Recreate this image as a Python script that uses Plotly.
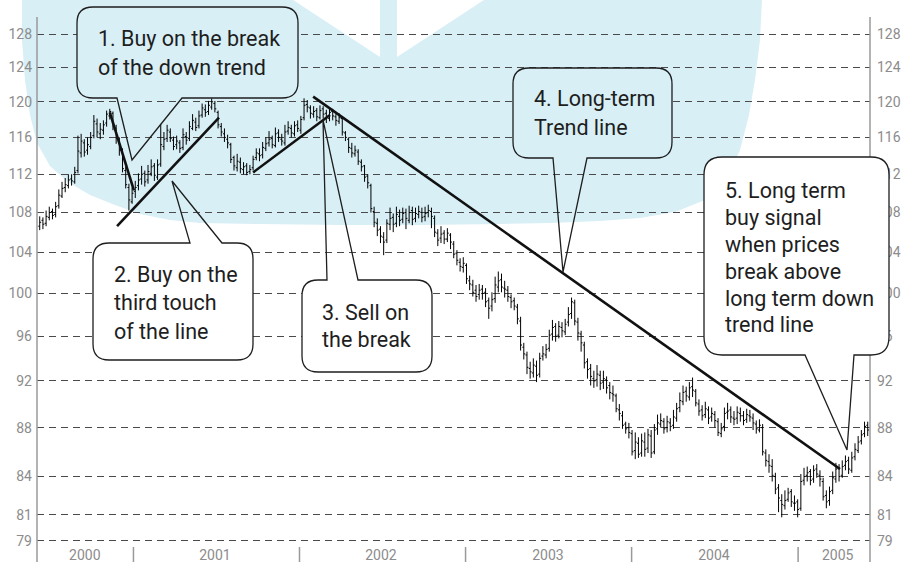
import plotly.graph_objects as go
import pandas as pd

# ---------------- data (weekly bars) ----------------
opens = [
    106.6, 107.2, 106.9, 107.5, 108.1, 107.8, 108.7, 109.7, 110.6, 110.8,
    111.5, 111.2, 112.4, 114.3, 115.4, 114.6, 115.0, 116.2, 117.5, 116.4,
    116.8, 117.6, 118.4, 118.7, 117.0, 115.6, 114.4, 112.4, 110.6, 109.1,
    110.2, 110.8, 111.5, 112.1, 111.4, 112.1, 112.9, 111.7, 113.1, 115.0,
    115.9, 116.6, 115.7, 115.2, 115.4, 114.9, 116.1, 115.9, 117.0, 117.7,
    117.3, 118.5, 119.1, 118.9, 119.4, 119.8, 118.8, 117.2, 116.4, 115.8,
    115.2, 113.8, 112.7, 113.3, 112.5, 112.9, 112.3, 112.7, 113.8, 114.2,
    114.1, 114.8, 115.4, 115.9, 115.1, 116.5, 115.8, 115.4, 116.7, 117.0,
    116.4, 117.4, 116.8, 118.2, 119.7, 119.3, 118.6, 119.0, 118.2, 119.2,
    118.7, 118.1, 118.9, 118.3, 117.8, 118.1, 116.5, 115.8, 114.8, 114.2,
    114.4, 113.3, 112.9, 111.8, 110.8, 108.1, 106.9, 106.3, 105.5, 105.2,
    106.8, 107.5, 106.9, 107.6, 107.3, 108.0, 107.2, 108.2, 107.4, 107.8,
    108.0, 107.6, 108.0, 108.1, 107.4, 105.9, 105.4, 105.9, 105.3, 105.7,
    104.8, 103.9, 103.0, 102.5, 102.7, 101.2, 100.8, 100.3, 99.9, 100.4,
    100.1, 99.3, 98.8, 99.5, 100.6, 101.3, 100.5, 100.3, 99.6, 99.3,
    98.7, 97.4, 95.0, 94.3, 93.1, 92.7, 93.3, 92.6, 94.2, 94.3,
    94.9, 96.2, 96.9, 96.1, 96.8, 96.4, 97.3, 98.1, 99.1, 97.3,
    96.2, 95.2, 93.7, 93.1, 92.2, 92.1, 92.5, 91.9, 92.1, 91.6,
    90.9, 90.7, 89.5, 89.0, 88.3, 88.0, 87.5, 86.1, 86.7, 85.9,
    86.8, 86.3, 87.3, 86.0, 87.9, 88.3, 88.5, 88.0, 88.4, 88.2,
    88.8, 89.7, 90.2, 91.1, 90.6, 91.5, 91.1, 90.0, 89.5, 89.1,
    89.5, 88.9, 89.1, 88.5, 87.5, 88.1, 89.3, 89.5, 88.8, 88.8,
    89.2, 89.0, 88.7, 89.0, 88.8, 88.3, 87.8, 88.0, 85.9, 85.2,
    84.8, 84.0, 83.1, 82.1, 81.7, 82.2, 82.8, 81.9, 82.0, 81.5,
    83.7, 84.1, 84.4, 83.8, 84.6, 84.1, 83.6, 82.5, 82.1, 82.9,
    83.8, 84.7, 84.1, 84.9, 85.3, 84.5, 85.6, 86.1, 86.9, 87.5,
    88.2,
]
highs = [
    107.6, 107.5, 108.2, 108.6, 108.4, 109.1, 110.4, 111.2, 111.6, 112.0,
    112.0, 112.8, 116.2, 116.4, 115.8, 116.0, 116.6, 118.5, 118.1, 117.6,
    117.9, 119.0, 119.2, 118.9, 117.4, 116.0, 114.8, 112.8, 111.0, 110.6,
    111.3, 112.1, 112.9, 112.4, 113.0, 113.6, 113.2, 113.6, 117.5, 116.6,
    117.4, 117.0, 116.1, 116.2, 115.7, 117.0, 116.6, 117.8, 118.6, 118.2,
    119.0, 119.8, 119.7, 120.1, 120.4, 120.1, 119.0, 117.6, 117.0, 116.3,
    115.4, 114.0, 114.2, 113.8, 113.3, 113.2, 113.0, 114.0, 114.8, 114.8,
    115.5, 116.0, 116.7, 116.2, 117.1, 116.9, 116.4, 117.4, 117.8, 117.4,
    117.8, 117.9, 118.4, 120.4, 120.2, 119.6, 119.5, 119.3, 119.6, 119.5,
    119.1, 119.3, 119.2, 118.6, 118.7, 118.3, 116.7, 116.0, 115.4, 115.1,
    114.7, 113.6, 113.0, 112.0, 111.0, 108.6, 107.4, 106.6, 106.0, 107.3,
    108.5, 107.9, 108.6, 108.3, 108.5, 108.4, 108.7, 108.6, 108.5, 108.7,
    108.5, 108.6, 108.8, 108.5, 107.7, 106.3, 106.6, 106.2, 106.4, 105.9,
    105.1, 104.2, 103.4, 103.5, 102.9, 101.7, 101.3, 100.8, 100.9, 100.8,
    100.5, 99.6, 100.1, 101.6, 102.1, 101.9, 101.2, 100.7, 99.9, 99.6,
    99.0, 97.8, 95.4, 94.6, 93.7, 94.0, 93.8, 94.5, 95.1, 95.3,
    96.6, 97.5, 97.2, 97.4, 97.3, 97.6, 98.7, 99.6, 99.4, 97.7,
    96.5, 95.5, 94.0, 93.5, 92.9, 93.4, 92.9, 92.9, 92.4, 91.9,
    91.6, 90.9, 90.0, 89.4, 88.5, 88.4, 87.8, 87.6, 87.2, 87.5,
    87.6, 87.9, 87.8, 88.3, 89.1, 89.2, 88.8, 89.0, 88.8, 89.5,
    90.1, 91.0, 91.6, 91.5, 91.9, 92.3, 91.3, 90.4, 89.9, 90.2,
    89.8, 89.7, 89.4, 88.8, 88.4, 89.7, 90.1, 89.8, 89.4, 89.8,
    89.7, 89.4, 89.6, 89.5, 89.2, 88.6, 88.7, 88.3, 86.2, 85.8,
    85.4, 84.3, 83.4, 82.6, 82.9, 83.1, 83.0, 82.5, 82.2, 84.2,
    84.7, 84.8, 84.6, 84.9, 85.0, 84.5, 83.9, 82.9, 83.2, 84.4,
    85.1, 85.0, 85.3, 85.7, 85.6, 86.0, 86.7, 87.3, 87.8, 88.5,
    88.5,
]
lows = [
    106.2, 106.3, 106.6, 107.2, 107.3, 107.5, 108.4, 109.5, 110.1, 110.5,
    110.8, 111.0, 112.1, 113.8, 113.9, 114.1, 114.7, 115.9, 116.0, 115.8,
    116.3, 117.2, 118.0, 116.8, 115.3, 114.0, 112.2, 110.5, 108.2, 108.9,
    109.5, 110.3, 110.9, 110.7, 111.0, 111.8, 111.3, 111.4, 112.8, 114.6,
    115.5, 115.5, 114.6, 114.7, 114.3, 114.6, 115.2, 115.6, 116.8, 116.7,
    117.0, 118.2, 118.3, 118.5, 119.1, 118.8, 117.0, 116.1, 115.5, 114.8,
    113.2, 112.4, 112.3, 112.1, 112.0, 111.9, 112.0, 112.4, 113.5, 113.4,
    113.7, 114.5, 115.0, 114.8, 114.9, 115.5, 115.1, 115.1, 116.3, 116.0,
    116.1, 116.6, 116.4, 117.9, 118.8, 118.1, 118.2, 117.8, 118.0, 118.1,
    117.6, 117.8, 117.9, 117.3, 117.5, 116.2, 115.6, 114.3, 113.8, 113.9,
    113.0, 112.3, 111.2, 110.5, 108.0, 106.5, 105.6, 104.9, 103.7, 104.9,
    106.2, 106.0, 106.5, 106.6, 106.9, 106.3, 106.9, 106.7, 107.0, 107.4,
    107.0, 107.1, 107.5, 106.4, 105.5, 104.6, 104.9, 104.8, 105.0, 104.3,
    103.4, 102.7, 102.1, 102.0, 100.9, 100.3, 99.7, 99.2, 99.4, 99.4,
    98.7, 97.6, 98.3, 99.1, 100.1, 100.1, 99.6, 99.2, 98.6, 98.4,
    97.1, 94.7, 93.9, 92.6, 92.2, 92.3, 91.9, 92.3, 93.8, 94.0,
    94.6, 95.6, 95.5, 95.8, 95.9, 96.1, 96.9, 97.6, 97.0, 95.6,
    94.6, 93.1, 92.2, 91.6, 91.4, 91.5, 91.2, 91.3, 90.9, 90.4,
    90.2, 89.3, 88.6, 87.9, 87.5, 87.1, 85.7, 85.4, 85.5, 85.6,
    85.6, 85.9, 85.5, 85.8, 87.4, 88.0, 87.5, 87.6, 87.7, 87.9,
    88.5, 89.3, 89.9, 90.2, 90.3, 90.6, 89.8, 89.0, 88.6, 88.8,
    88.3, 88.5, 88.0, 87.3, 87.2, 87.7, 88.7, 88.4, 88.2, 88.3,
    88.5, 88.2, 88.4, 88.5, 87.8, 87.5, 87.6, 85.7, 84.8, 84.3,
    83.6, 82.6, 81.2, 80.8, 81.4, 82.0, 81.6, 81.3, 80.8, 81.3,
    83.3, 83.6, 83.3, 83.5, 83.9, 83.2, 82.1, 81.5, 81.7, 82.6,
    83.5, 83.6, 83.9, 84.5, 84.2, 84.3, 85.3, 85.9, 86.6, 87.2,
    87.3,
]
closes = [
    107.0, 106.8, 107.6, 108.0, 107.7, 108.6, 109.8, 110.5, 110.9, 111.4,
    111.3, 112.2, 114.5, 115.6, 114.4, 115.2, 116.0, 117.8, 116.6, 116.9,
    117.4, 118.6, 118.9, 117.2, 115.9, 114.6, 112.6, 110.9, 109.3, 110.0,
    110.6, 111.4, 112.0, 111.2, 112.3, 112.8, 111.9, 113.0, 115.2, 115.8,
    116.8, 115.9, 115.0, 115.6, 114.8, 116.3, 115.7, 117.2, 117.9, 117.1,
    118.4, 119.3, 118.8, 119.6, 120.0, 119.2, 117.4, 116.6, 116.0, 115.4,
    113.6, 112.9, 113.4, 112.6, 112.8, 112.2, 112.5, 113.6, 114.3, 114.0,
    114.9, 115.3, 115.8, 115.2, 116.4, 116.0, 115.6, 116.6, 117.1, 116.5,
    117.3, 117.0, 118.0, 119.6, 119.4, 118.7, 118.9, 118.3, 119.0, 118.6,
    118.2, 118.8, 118.4, 117.9, 118.2, 116.6, 116.0, 114.9, 114.3, 114.6,
    113.4, 112.8, 111.7, 111.1, 108.4, 107.0, 106.2, 105.6, 105.0, 106.9,
    107.4, 106.8, 107.8, 107.2, 107.9, 107.4, 108.0, 107.3, 107.9, 108.1,
    107.5, 107.9, 108.2, 107.6, 106.0, 105.2, 105.8, 105.3, 105.9, 105.0,
    103.8, 103.2, 102.6, 102.9, 101.4, 100.9, 100.1, 99.7, 100.3, 100.0,
    99.2, 98.6, 99.4, 100.8, 101.2, 100.6, 100.4, 99.7, 99.2, 98.8,
    97.6, 95.2, 94.4, 93.2, 92.8, 93.4, 92.5, 94.0, 94.4, 94.8,
    96.1, 96.8, 96.0, 96.9, 96.5, 97.1, 98.0, 99.2, 97.4, 96.3,
    95.4, 93.6, 93.0, 92.4, 92.0, 92.6, 91.8, 92.2, 91.4, 91.0,
    90.8, 89.6, 89.2, 88.2, 87.9, 87.6, 86.0, 86.8, 85.8, 86.9,
    86.2, 87.4, 85.9, 87.8, 88.4, 88.6, 87.9, 88.5, 88.1, 88.9,
    89.6, 90.3, 91.0, 90.7, 91.4, 91.2, 90.1, 89.4, 89.0, 89.6,
    88.8, 89.2, 88.6, 87.6, 87.9, 89.2, 89.4, 88.9, 88.7, 89.3,
    89.0, 88.6, 89.1, 88.9, 88.4, 87.9, 88.2, 86.0, 85.3, 84.9,
    84.1, 83.0, 82.3, 81.8, 82.1, 82.7, 82.0, 81.9, 81.4, 83.6,
    84.0, 84.3, 83.7, 84.5, 84.2, 83.8, 82.4, 82.0, 82.8, 83.9,
    84.6, 84.0, 84.8, 85.2, 84.6, 85.5, 86.2, 86.8, 87.4, 88.1,
    87.8,
]
week_dates = pd.date_range("2000-06-09", periods=len(closes), freq="7D")

# trend lines (date, price)
trend1_dates = ["2000-11-10", "2001-01-02"]
trend1_prices = [118.8, 110.3]
trend2_dates = ["2000-11-26", "2001-07-08"]
trend2_prices = [106.6, 118.2]
trend3_dates = ["2001-09-21", "2002-03-09"]
trend3_prices = [112.2, 118.5]
trend4_dates = ["2002-01-31", "2005-04-03"]
trend4_prices = [120.6, 84.6]

price_ticks = [79, 81, 84, 88, 92, 96, 100, 104, 108, 112, 116, 120, 124, 128]
year_labels = ["2000", "2001", "2002", "2003", "2004", "2005"]
year_label_dates = ["2000-09-16", "2001-06-29", "2002-06-29", "2003-07-01", "2004-06-30", "2005-03-29"]
year_starts = ["2001-01-01", "2002-01-01", "2003-01-01", "2004-01-01", "2005-01-01"]

callout_texts = [
    ["1. Buy on the break", "of the down trend"],
    ["2. Buy on the", "third touch", "of the line"],
    ["3. Sell on", "the break"],
    ["4. Long-term", "Trend line"],
    ["5. Long term", "buy signal", "when prices", "break above", "long term down", "trend line"],
]

# ---------------- layout helpers (pixel -> paper) ----------------
W, H = 909, 562
L, R, T, B = 37, 870, 17, 545
FONT = "Roboto, Liberation Sans, sans-serif"
BLUE = "#d8eff5"
INK = "#1e1e1e"
GRAY = "#8c8c8c"


def fx(X):
    return (X - L) / (R - L)


def fy(Y):
    return (B - Y) / (B - T)


def P(X, Y):
    return f"{fx(X):.5f},{fy(Y):.5f}"


def box_path(x0, y0, x1, y1, r):
    return (f"M {P(x0 + r, y0)} L {P(x1 - r, y0)} Q {P(x1, y0)} {P(x1, y0 + r)} "
            f"L {P(x1, y1 - r)} Q {P(x1, y1)} {P(x1 - r, y1)} L {P(x0 + r, y1)} "
            f"Q {P(x0, y1)} {P(x0, y1 - r)} L {P(x0, y0 + r)} Q {P(x0, y0)} {P(x0 + r, y0)} Z")


def outline_path(x0, y0, x1, y1, r, side, ba, bb, tx, ty):
    s = f"M {P(x0 + r, y0)} "
    if side == "top":
        s += f"L {P(ba, y0)} L {P(tx, ty)} L {P(bb, y0)} "
    s += (f"L {P(x1 - r, y0)} Q {P(x1, y0)} {P(x1, y0 + r)} "
          f"L {P(x1, y1 - r)} Q {P(x1, y1)} {P(x1 - r, y1)} ")
    if side == "bottom":
        s += f"L {P(bb, y1)} L {P(tx, ty)} L {P(ba, y1)} "
    s += (f"L {P(x0 + r, y1)} Q {P(x0, y1)} {P(x0, y1 - r)} "
          f"L {P(x0, y0 + r)} Q {P(x0, y0)} {P(x0 + r, y0)} Z")
    return s


fig = go.Figure()

fig.add_trace(go.Ohlc(
    x=week_dates, open=opens, high=highs, low=lows, close=closes,
    increasing=dict(line=dict(color="#000000", width=1)),
    decreasing=dict(line=dict(color="#000000", width=1)),
    tickwidth=0.45, showlegend=False, hoverinfo="skip",
))

for d, p in [(trend1_dates, trend1_prices), (trend2_dates, trend2_prices),
             (trend3_dates, trend3_prices), (trend4_dates, trend4_prices)]:
    fig.add_trace(go.Scatter(x=d, y=p, mode="lines", line=dict(color="#111111", width=2.6),
                             showlegend=False, hoverinfo="skip"))

# invisible trace so the right-hand axis is drawn
fig.add_trace(go.Scatter(x=week_dates, y=closes, yaxis="y2", mode="lines",
                         line=dict(width=0), opacity=0, showlegend=False, hoverinfo="skip"))

shapes = []
# light-blue backdrop with white chevron notch
bg_pts = [(22, -2), (290, -2), (380, 57), (380, -2), (397, -2), (397, 57), (487, -2), (762, -2),
          (760, 40), (755, 80), (749, 115), (740, 150), (726, 180), (705, 200), (675, 212),
          (640, 218), (600, 221), (550, 223), (500, 224), (420, 225), (340, 225), (260, 224),
          (200, 223), (170, 220), (140, 214), (115, 205), (90, 195), (68, 182), (50, 166),
          (37, 143), (30, 115), (25, 80), (22, 40)]
bg_path = "M " + " L ".join(P(x, y) for x, y in bg_pts) + " Z"
shapes.append(dict(type="path", path=bg_path, xref="paper", yref="paper",
                   fillcolor=BLUE, line=dict(width=0), layer="below"))

# axis frame lines and year separators
for xp in (0, 1):
    shapes.append(dict(type="line", xref="paper", yref="paper", x0=xp, x1=xp,
                       y0=fy(562), y1=1, line=dict(color="#9a9a9a", width=1.5), layer="above"))
for ys in year_starts:
    shapes.append(dict(type="line", xref="x", yref="paper", x0=ys, x1=ys,
                       y0=fy(562), y1=fy(547), line=dict(color="#9a9a9a", width=1.5)))

# callouts: (box, radius, tail, fill)
callouts = [
    ((77, 7, 298, 98), 16, ("bottom", 117, 182, 132, 160), BLUE),
    ((93, 243, 253, 360), 16, ("top", 190, 222, 172, 181), "white"),
    ((302, 280, 432, 372), 16, ("top", 327, 358, 323, 120), "white"),
    ((513, 68, 672, 158), 16, ("bottom", 553, 587, 563, 272), BLUE),
    ((704, 157, 889, 355), 18, ("bottom", 805, 854, 847, 450), "white"),
]
for (x0, y0, x1, y1), r, (side, ba, bb, tx, ty), fill in callouts:
    shapes.append(dict(type="path", path=box_path(x0, y0, x1, y1, r), xref="paper", yref="paper",
                       fillcolor=fill, line=dict(width=0), layer="above"))
    shapes.append(dict(type="path", path=outline_path(x0, y0, x1, y1, r, side, ba, bb, tx, ty),
                       xref="paper", yref="paper", fillcolor="rgba(0,0,0,0)",
                       line=dict(color=INK, width=1.3), layer="above"))

annotations = []
text_pos = [(96, 39, 28), (112, 274, 28.5), (320, 312, 27), (532, 99, 29), (723, 190, 27)]
for lines, (tx0, ty0, dy) in zip(callout_texts, text_pos):
    for i, line in enumerate(lines):
        annotations.append(dict(text=line, x=fx(tx0), y=fy(ty0 + i * dy), xref="paper", yref="paper",
                                xanchor="left", yanchor="middle", showarrow=False,
                                font=dict(family=FONT, size=21.5, color=INK)))

yrange = [1.89597, 2.11424]
axis_font = dict(family=FONT, size=14, color=GRAY)
fig.update_layout(
    width=W, height=H,
    margin=dict(l=L, r=W - R, t=T, b=H - B, pad=0, autoexpand=False),
    paper_bgcolor="white", plot_bgcolor="rgba(0,0,0,0)",
    showlegend=False,
    xaxis=dict(type="date", range=["2000-06-03", "2005-06-08"], rangeslider=dict(visible=False),
               showgrid=False, zeroline=False, showline=False, ticks="", automargin=False,
               tickvals=year_label_dates, ticktext=year_labels, tickfont=axis_font),
    yaxis=dict(type="log", range=yrange, tickvals=price_ticks, ticktext=[str(v) for v in price_ticks],
               showgrid=True, gridcolor="#4a4a4a", gridwidth=1, griddash="7px,5px", automargin=False,
               zeroline=False, showline=False, ticks="", tickfont=axis_font, ticklabelstandoff=4),
    yaxis2=dict(type="log", range=yrange, overlaying="y", side="right", tickvals=price_ticks,
                ticktext=[str(v) for v in price_ticks], showgrid=False, zeroline=False, automargin=False,
                showline=False, ticks="", tickfont=axis_font, ticklabelstandoff=6),
    shapes=shapes, annotations=annotations,
)

fig.write_html("out.html", config={"displayModeBar": False, "staticPlot": True},
               post_script="document.body.style.margin='0';document.body.style.overflow='hidden';")
